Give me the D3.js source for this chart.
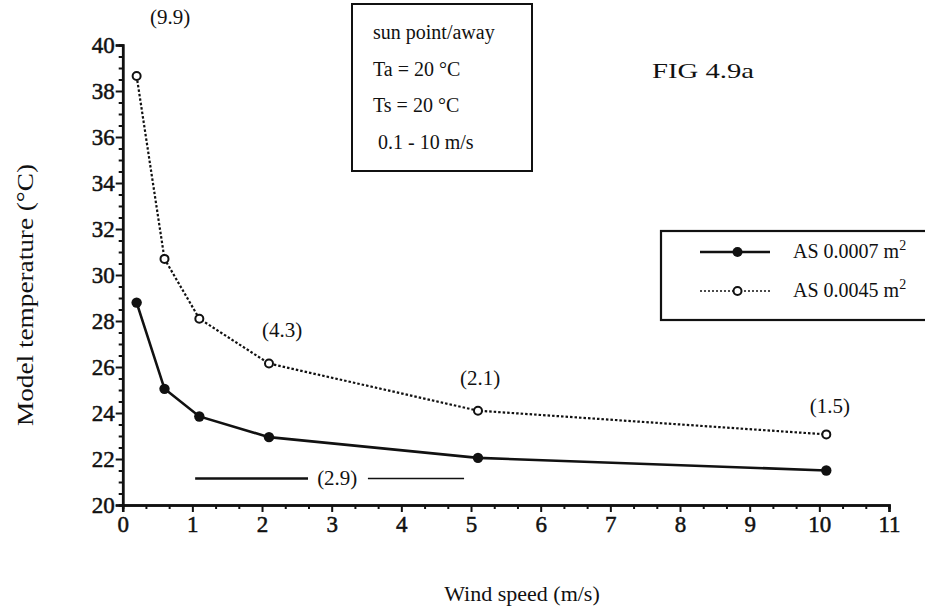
<!DOCTYPE html>
<html>
<head>
<meta charset="utf-8">
<script src="https://cdn.jsdelivr.net/npm/d3@7"></script>
<style>
  body { margin: 0; background: #fff; }
  text { font-family: "Liberation Serif", "Times New Roman", serif; fill: #111; }
</style>
</head>
<body>
<div id="chartId"></div>
<script>

// Data

var windSpeeds = [0.2, 0.6, 1.1, 2.1, 5.1, 10.1];
var tempSmall = [28.8, 25.05, 23.85, 22.95, 22.05, 21.5];   // AS 0.0007 m2
var tempLarge = [38.65, 30.7, 28.1, 26.15, 24.1, 23.07];    // AS 0.0045 m2
var seriesNames = ["AS 0.0007 m", "AS 0.0045 m"];
var xTicks = d3.range(0, 12);
var yTicks = d3.range(20, 41, 2);
var pointLabels = [
    {text: "(9.9)", x: 0.68, y: 40.9},
    {text: "(4.3)", x: 2.29, y: 27.3},
    {text: "(2.1)", x: 5.13, y: 25.2},
    {text: "(1.5)", x: 10.15, y: 24.0},
    {text: "(2.9)", x: 3.08, y: 20.87}
];
var spanLine = {x0: 1.04, x1: 2.66, x2: 3.52, x3: 4.9, y: 21.15};
var infoLines = ["sun point/away", "Ta = 20 \u00B0C", "Ts = 20 \u00B0C", "\u00A00.1 - 10 m/s"];


var W = 925, H = 614;
var margin = {top: 45, left: 122.7, right: 36, bottom: 109};

var svg = d3.select("#chartId").append("svg")
    .attr("width", W).attr("height", H);

var xScale = d3.scaleLinear().domain([0, 11]).range([margin.left, W - margin.right]);
var yScale = d3.scaleLinear().domain([20, 40]).range([H - margin.bottom, margin.top]);

// axes
var xAxis = d3.axisBottom(xScale).tickValues(xTicks).tickSize(7).tickPadding(4).tickFormat(d3.format("d"));
var xMinor = d3.axisBottom(xScale).tickValues(d3.range(0, 33).filter(function(i) { return i % 3 !== 0; }).map(function(i) { return i / 3; }))
    .tickSize(4).tickFormat("");
var yAxis = d3.axisLeft(yScale).tickValues(yTicks).tickSize(7).tickPadding(1).tickFormat(d3.format("d"));
var yMinor = d3.axisLeft(yScale).tickValues(d3.range(20, 40.1, 0.5).filter(function(v) { return v % 2 !== 0; }))
    .tickSize(4).tickFormat("");

function styleAxis(g) {
    g.attr("font-family", "Liberation Serif").attr("font-size", 23);
    g.select(".domain").attr("stroke", "#111").attr("stroke-width", 2.5);
    g.selectAll(".tick line").attr("stroke", "#111").attr("stroke-width", 2);
    g.selectAll(".tick text")
        .style("font-size", "23px")
        .attr("fill", "#111").attr("stroke", "#111").attr("stroke-width", 0.5);
}

var gx = svg.append("g").attr("transform", "translate(0," + yScale(20) + ")");
gx.call(xMinor).call(styleAxis);
gx.append("g").call(xAxis).call(styleAxis);

var gy = svg.append("g").attr("transform", "translate(" + xScale(0) + ",0)");
gy.call(yMinor).call(styleAxis);
gy.append("g").call(yAxis).call(styleAxis);

// axis titles
svg.append("text")
    .attr("transform", "translate(33,295) rotate(-90)")
    .attr("text-anchor", "middle")
    .attr("textLength", 262).attr("lengthAdjust", "spacingAndGlyphs")
    .style("font-size", "24px")
    .text("Model temperature (\u00B0C)");

svg.append("text")
    .attr("x", 522).attr("y", 601)
    .attr("text-anchor", "middle")
    .style("font-size", "22px")
    .text("Wind speed (m/s)");

// series
var line = d3.line()
    .x(function(d) { return xScale(d[0]); })
    .y(function(d) { return yScale(d[1]); });

var smallPts = d3.zip(windSpeeds, tempSmall);
var largePts = d3.zip(windSpeeds, tempLarge);

svg.append("path").datum(largePts)
    .attr("d", line).attr("fill", "none")
    .attr("stroke", "#111").attr("stroke-width", 2.2).attr("stroke-dasharray", "2.5,2");

svg.append("path").datum(smallPts)
    .attr("d", line).attr("fill", "none")
    .attr("stroke", "#111").attr("stroke-width", 2.6);

svg.append("g").selectAll("circle").data(smallPts).enter().append("circle")
    .attr("cx", function(d) { return xScale(d[0]); })
    .attr("cy", function(d) { return yScale(d[1]); })
    .attr("r", 5.2).attr("fill", "#111");

svg.append("g").selectAll("circle").data(largePts).enter().append("circle")
    .attr("cx", function(d) { return xScale(d[0]); })
    .attr("cy", function(d) { return yScale(d[1]); })
    .attr("r", 4).attr("fill", "#fff").attr("stroke", "#111").attr("stroke-width", 2);

// point labels
svg.append("g").selectAll("text").data(pointLabels).enter().append("text")
    .attr("x", function(d) { return xScale(d.x); })
    .attr("y", function(d) { return yScale(d.y); })
    .attr("text-anchor", "middle")
    .style("font-size", "21px")
    .text(function(d) { return d.text; });

// span line around (2.9)
svg.append("line")
    .attr("x1", xScale(spanLine.x0)).attr("x2", xScale(spanLine.x1))
    .attr("y1", yScale(spanLine.y)).attr("y2", yScale(spanLine.y))
    .attr("stroke", "#111").attr("stroke-width", 2.4);
svg.append("line")
    .attr("x1", xScale(spanLine.x2)).attr("x2", xScale(spanLine.x3))
    .attr("y1", yScale(spanLine.y)).attr("y2", yScale(spanLine.y))
    .attr("stroke", "#111").attr("stroke-width", 1.5);

// info box
var info = svg.append("g");
info.append("rect")
    .attr("x", 352).attr("y", 4).attr("width", 180).attr("height", 167)
    .attr("fill", "#fff").attr("stroke", "#111").attr("stroke-width", 2);
info.selectAll("text").data(infoLines).enter().append("text")
    .attr("x", 373)
    .attr("y", function(d, i) { return 39 + i * 36.5; })
    .style("font-size", "20px")
    .text(function(d) { return d; });

svg.append("text")
    .attr("x", 652).attr("y", 78)
    .attr("textLength", 102).attr("lengthAdjust", "spacingAndGlyphs")
    .style("font-size", "22px")
    .text("FIG 4.9a");

// legend
var legend = svg.append("g");
legend.append("rect")
    .attr("x", 661).attr("y", 231).attr("width", 280).attr("height", 89)
    .attr("fill", "#fff").attr("stroke", "#111").attr("stroke-width", 2.2);

var legendRows = [
    {name: seriesNames[0], y: 252, dash: null, width: 2.6, filled: true},
    {name: seriesNames[1], y: 291, dash: "2,2", width: 1.5, filled: false}
];

legendRows.forEach(function(r) {
    legend.append("line")
        .attr("x1", 700).attr("x2", 770).attr("y1", r.y).attr("y2", r.y)
        .attr("stroke", "#111").attr("stroke-width", r.width)
        .attr("stroke-dasharray", r.dash);
    legend.append("circle")
        .attr("cx", 737.5).attr("cy", r.y)
        .attr("r", r.filled ? 5 : 4)
        .attr("fill", r.filled ? "#111" : "#fff")
        .attr("stroke", "#111").attr("stroke-width", r.filled ? 0 : 2);
    var t = legend.append("text")
        .attr("x", 793).attr("y", r.y + 6)
        .style("font-size", "20px")
        .text(r.name);
    t.append("tspan").attr("dy", -8).style("font-size", "14px").text("2");
});

</script>
</body>
</html>
